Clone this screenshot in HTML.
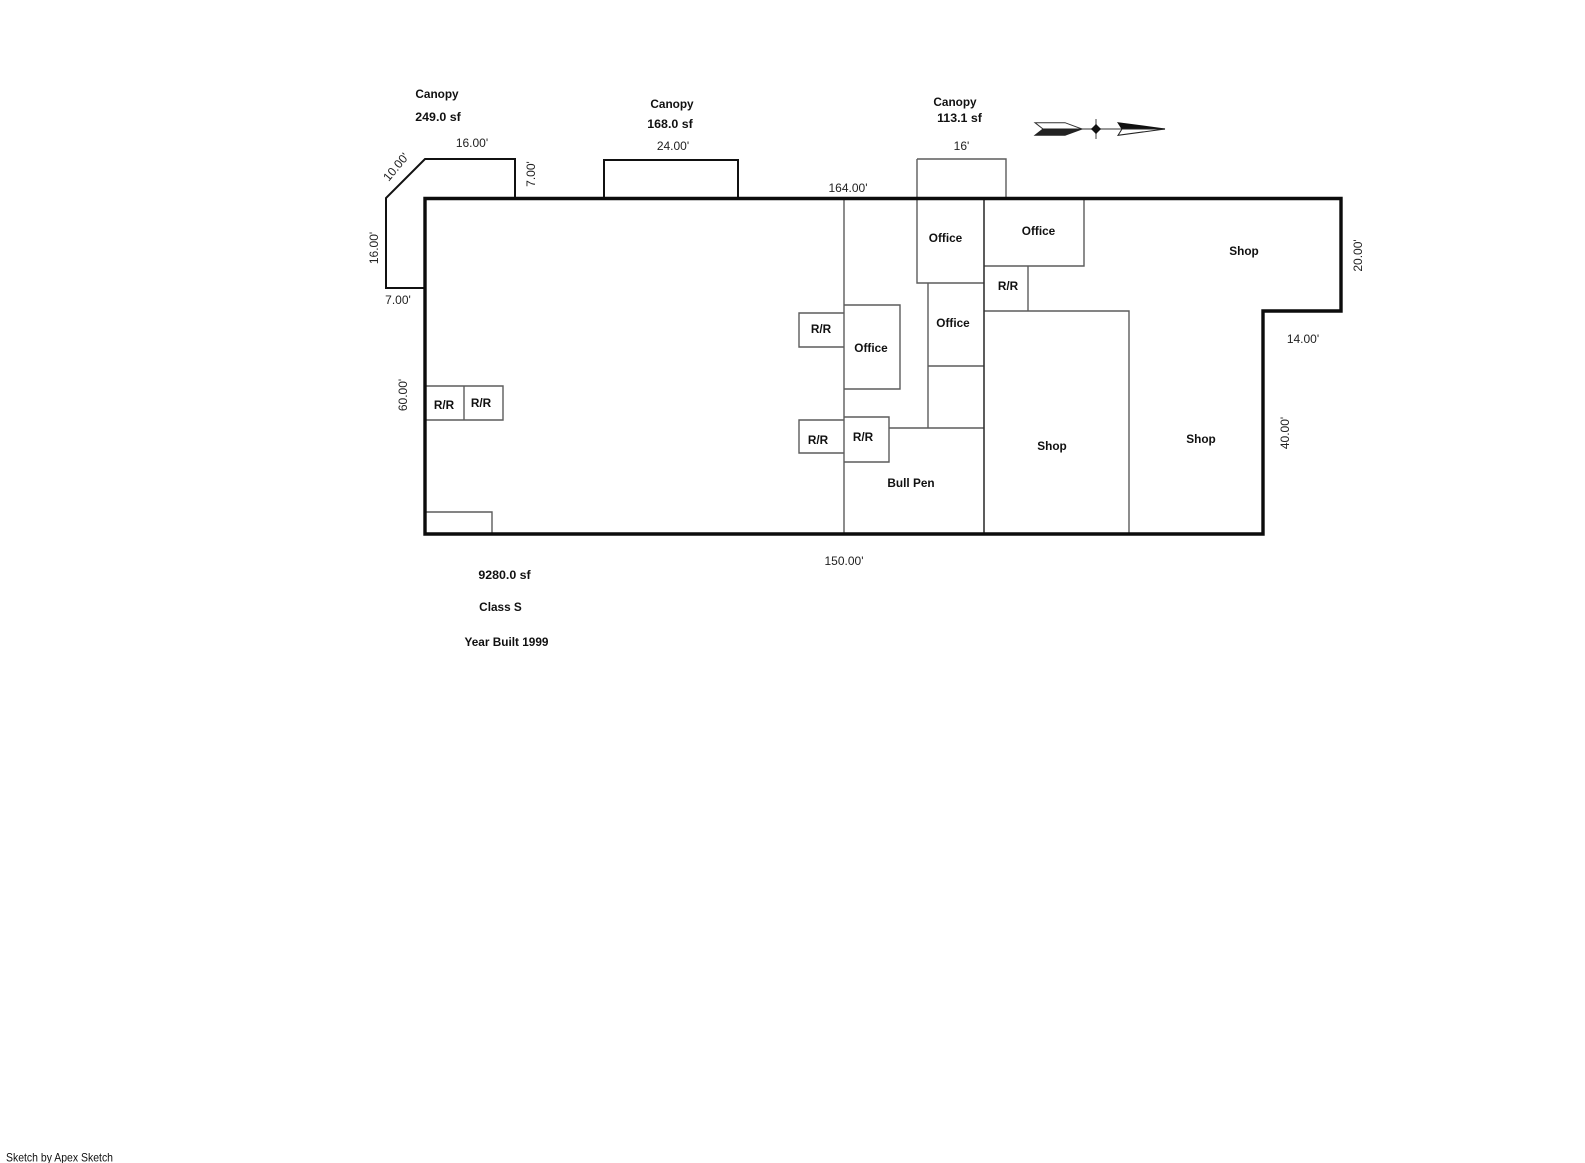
<!DOCTYPE html>
<html>
<head>
<meta charset="utf-8">
<style>
html,body{margin:0;padding:0;background:#fff;width:1585px;height:1163px;overflow:hidden}
svg{display:block}
text{font-family:"Liberation Sans",sans-serif;font-size:12px;fill:#111;text-anchor:middle;dominant-baseline:central}
.b{font-weight:bold;font-size:11.8px}
.s{font-weight:bold;font-size:12.4px}
.r{fill:#222}
</style>
</head>
<body>
<svg width="1585" height="1163" viewBox="0 0 1585 1163" xmlns="http://www.w3.org/2000/svg">
<rect width="1585" height="1163" fill="#fff"/>

<!-- thin interior lines -->
<g fill="none" stroke="#5c5c5c" stroke-width="1.4">
  <path d="M917 159H1006V198M917 159V283H984"/>
  <path d="M844 198V534"/>
  <path d="M984 266H1084V198"/>
  <path d="M1028 266V311"/>
  <path d="M984 311H1129V534"/>
  <path d="M928 283V428"/>
  <path d="M928 366H984"/>
  <path d="M889 428H984"/>
  <path d="M844 305H900V389H844"/>
  <path d="M844 313H799V347H844"/>
  <path d="M844 420H799V453H844"/>
  <path d="M844 417H889V462H844"/>
  <path d="M425 386H503V420H425"/>
  <path d="M464 386V420"/>
  <path d="M425 512H492V534"/>
</g>
<path d="M984 198V534" stroke="#333" stroke-width="1.6" fill="none"/>

<!-- canopies -->
<g fill="none" stroke="#111" stroke-width="2" stroke-linejoin="miter">
  <path d="M515 198V159H425L386 198V288H425"/>
  <path d="M604 198V160H738V198"/>
</g>

<!-- outer wall -->
<path d="M425 198.5H1341V311H1263V534H425Z" fill="none" stroke="#0c0c0c" stroke-width="3.4"/>

<!-- north arrow -->
<path d="M1082 129H1165" stroke="#777" stroke-width="1.6"/>
<path d="M1096 119V139" stroke="#777" stroke-width="1.4"/>
<path d="M1096 124L1101 129L1096 134L1091 129Z" fill="#111"/>
<path d="M1035 122.7H1065L1082 129H1043Z" fill="#fff" stroke="#333" stroke-width="1"/>
<path d="M1043 129H1082L1065 135.3H1035Z" fill="#222" stroke="#222" stroke-width="1"/>
<path d="M1118 122.7L1165 129H1122Z" fill="#111" stroke="#111" stroke-width="1"/>
<path d="M1122 129H1165L1118 135.3Z" fill="#fff" stroke="#222" stroke-width="1"/>

<!-- bold labels -->
<g>
  <text class="b" x="437" y="94">Canopy</text>
  <text class="s" x="438" y="117">249.0 sf</text>
  <text class="b" x="672" y="104">Canopy</text>
  <text class="s" x="670" y="124">168.0 sf</text>
  <text class="b" x="955" y="102">Canopy</text>
  <text class="s" x="959.5" y="118">113.1 sf</text>
  <text class="b" x="945.5" y="238">Office</text>
  <text class="b" x="1038.5" y="231">Office</text>
  <text class="b" x="1008" y="286">R/R</text>
  <text class="b" x="821" y="329">R/R</text>
  <text class="b" x="871" y="348">Office</text>
  <text class="b" x="953" y="323">Office</text>
  <text class="b" x="818" y="440">R/R</text>
  <text class="b" x="863" y="437">R/R</text>
  <text class="b" x="911" y="483">Bull Pen</text>
  <text class="b" x="1052" y="446">Shop</text>
  <text class="b" x="1244" y="251">Shop</text>
  <text class="b" x="1201" y="439">Shop</text>
  <text class="b" x="444" y="405">R/R</text>
  <text class="b" x="481" y="403">R/R</text>
  <text class="s" x="504.5" y="575">9280.0 sf</text>
  <text class="b" x="500.5" y="607">Class S</text>
  <text class="b" x="506.5" y="642">Year Built 1999</text>
</g>

<!-- dimension labels -->
<text class="r" x="472" y="143">16.00'</text>
<text class="r" x="673" y="146">24.00'</text>
<text class="r" x="961.5" y="146">16'</text>
<text class="r" x="848" y="188">164.00'</text>
<text class="r" x="398" y="300">7.00'</text>
<text class="r" x="844" y="561">150.00'</text>
<text class="r" x="1303" y="339">14.00'</text>
<text class="r" transform="translate(396 167) rotate(-50)">10.00'</text>
<text class="r" transform="translate(531 174) rotate(-90)">7.00'</text>
<text class="r" transform="translate(374 248) rotate(-90)">16.00'</text>
<text class="r" transform="translate(403 395) rotate(-90)">60.00'</text>
<text class="r" transform="translate(1358 255.5) rotate(-90)">20.00'</text>
<text class="r" transform="translate(1285 433) rotate(-90)">40.00'</text>

<text x="6" y="1157.5" style="text-anchor:start" textLength="107" lengthAdjust="spacingAndGlyphs">Sketch by Apex Sketch</text>
</svg>
</body>
</html>
